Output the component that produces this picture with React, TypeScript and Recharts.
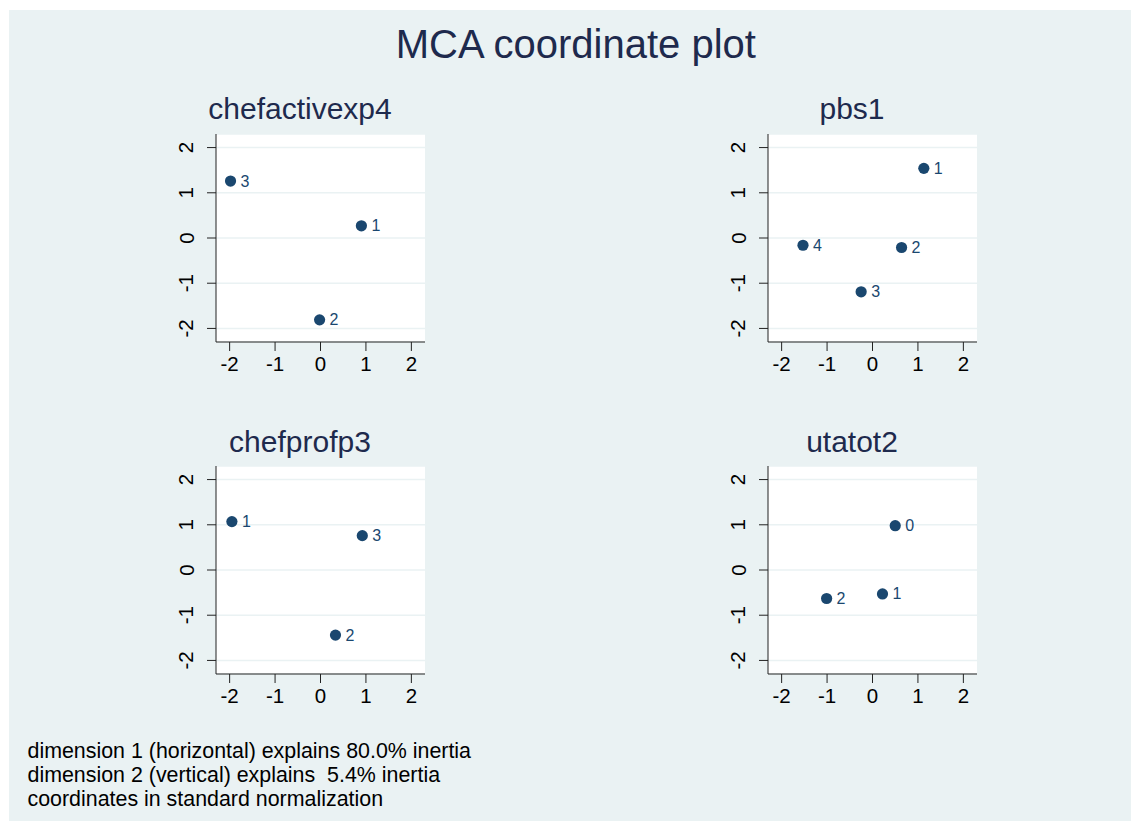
import React from 'react';
import { ScatterChart, Scatter, XAxis, YAxis, CartesianGrid } from 'recharts';

// ---- data ----
const axisTicks = [-2, -1, 0, 1, 2];

const chefactivexp4Cats = ['1', '2', '3'];
const chefactivexp4X = [0.9, -0.02, -1.98];
const chefactivexp4Y = [0.27, -1.81, 1.26];

const pbs1Cats = ['1', '2', '3', '4'];
const pbs1X = [1.13, 0.64, -0.25, -1.53];
const pbs1Y = [1.54, -0.21, -1.19, -0.16];

const chefprofp3Cats = ['1', '2', '3'];
const chefprofp3X = [-1.95, 0.33, 0.92];
const chefprofp3Y = [1.07, -1.44, 0.76];

const utatot2Cats = ['0', '1', '2'];
const utatot2X = [0.5, 0.22, -1.01];
const utatot2Y = [0.98, -0.53, -0.63];

const mainTitle = 'MCA coordinate plot';
const noteLines = [
  'dimension 1 (horizontal) explains 80.0% inertia',
  'dimension 2 (vertical) explains  5.4% inertia',
  'coordinates in standard normalization',
];

const build = (cats: string[], xs: number[], ys: number[]) =>
  cats.map((c, i) => ({ label: c, x: xs[i], y: ys[i] }));

const FONT = '"Liberation Sans", Arial, Helvetica, sans-serif';
const NAVY = '#1a476f';
const TITLE = '#1e2a4d';
const BG = '#eaf2f3';

const PLOT_W = 209;
const PLOT_H = 208;
const YW = 56;
const TOPM = 10;
const XH = 40;

const XTick = (props: any) => {
  const { x, y, payload } = props;
  return (
    <text x={x} y={y + 20} textAnchor="middle" fontSize={20.5} fontFamily={FONT} fill="#000">
      {String(payload.value)}
    </text>
  );
};

const YTick = (props: any) => {
  const { x, y, payload } = props;
  const bx = x - 13.5;
  return (
    <text
      x={bx}
      y={y}
      transform={`rotate(-90, ${bx}, ${y})`}
      textAnchor="middle"
      fontSize={20.5}
      fontFamily={FONT}
      fill="#000"
    >
      {String(payload.value)}
    </text>
  );
};

const Dot = (props: any) => {
  const { cx, cy, payload } = props;
  return (
    <g>
      <circle cx={cx} cy={cy} r={5.6} fill={NAVY} />
      <text x={cx + 10} y={cy + 5.5} fontSize={16} fontFamily={FONT} fill={NAVY}>
        {payload.label}
      </text>
    </g>
  );
};

const Panel = ({ left, top, data }: { left: number; top: number; data: any[] }) => (
  <div style={{ position: 'absolute', left: left - YW, top: top - TOPM }}>
    <ScatterChart
      width={YW + PLOT_W}
      height={TOPM + PLOT_H + XH}
      margin={{ top: TOPM, right: 0, left: 0, bottom: 0 }}
    >
      <CartesianGrid vertical={false} horizontal={true} stroke={BG} strokeWidth={1.6} fill="#ffffff" />
      <XAxis
        type="number"
        dataKey="x"
        domain={[-2.3, 2.3]}
        ticks={axisTicks}
        interval={0}
        allowDataOverflow
        height={XH}
        tickSize={9}
        tickMargin={0}
        stroke="#222"
        tick={<XTick />}
      />
      <YAxis
        type="number"
        dataKey="y"
        domain={[-2.3, 2.3]}
        ticks={axisTicks}
        interval={0}
        allowDataOverflow
        width={YW}
        tickSize={9}
        tickMargin={0}
        stroke="#222"
        tick={<YTick />}
      />
      <Scatter data={data} shape={<Dot />} isAnimationActive={false} />
    </ScatterChart>
  </div>
);

export default function App() {
  return (
    <div style={{ position: 'absolute', left: 0, top: 0, width: 1131, height: 821, background: '#ffffff', overflow: 'hidden' }}>
      <svg width={1131} height={821} style={{ position: 'absolute', left: 0, top: 0 }}>
        <rect x={9} y={10} width={1122} height={811} fill={BG} />
        <text x={575.8} y={57.7} textAnchor="middle" fontSize={40} fontFamily={FONT} fill={TITLE}>
          {mainTitle}
        </text>
        <text x={300} y={119.3} textAnchor="middle" fontSize={30} fontFamily={FONT} fill={TITLE}>chefactivexp4</text>
        <text x={852} y={119.3} textAnchor="middle" fontSize={30} fontFamily={FONT} fill={TITLE}>pbs1</text>
        <text x={300} y={451.5} textAnchor="middle" fontSize={30} fontFamily={FONT} fill={TITLE}>chefprofp3</text>
        <text x={852} y={451.5} textAnchor="middle" fontSize={30} fontFamily={FONT} fill={TITLE}>utatot2</text>
        {noteLines.map((t, i) => (
          <text key={i} x={27.5} y={757.7 + i * 24.2} fontSize={21.4} fontFamily={FONT} fill="#000" style={{ whiteSpace: 'pre' }}>
            {t}
          </text>
        ))}
      </svg>
      <Panel left={216} top={134} data={build(chefactivexp4Cats, chefactivexp4X, chefactivexp4Y)} />
      <Panel left={768} top={134} data={build(pbs1Cats, pbs1X, pbs1Y)} />
      <Panel left={216} top={466} data={build(chefprofp3Cats, chefprofp3X, chefprofp3Y)} />
      <Panel left={768} top={466} data={build(utatot2Cats, utatot2X, utatot2Y)} />
    </div>
  );
}
